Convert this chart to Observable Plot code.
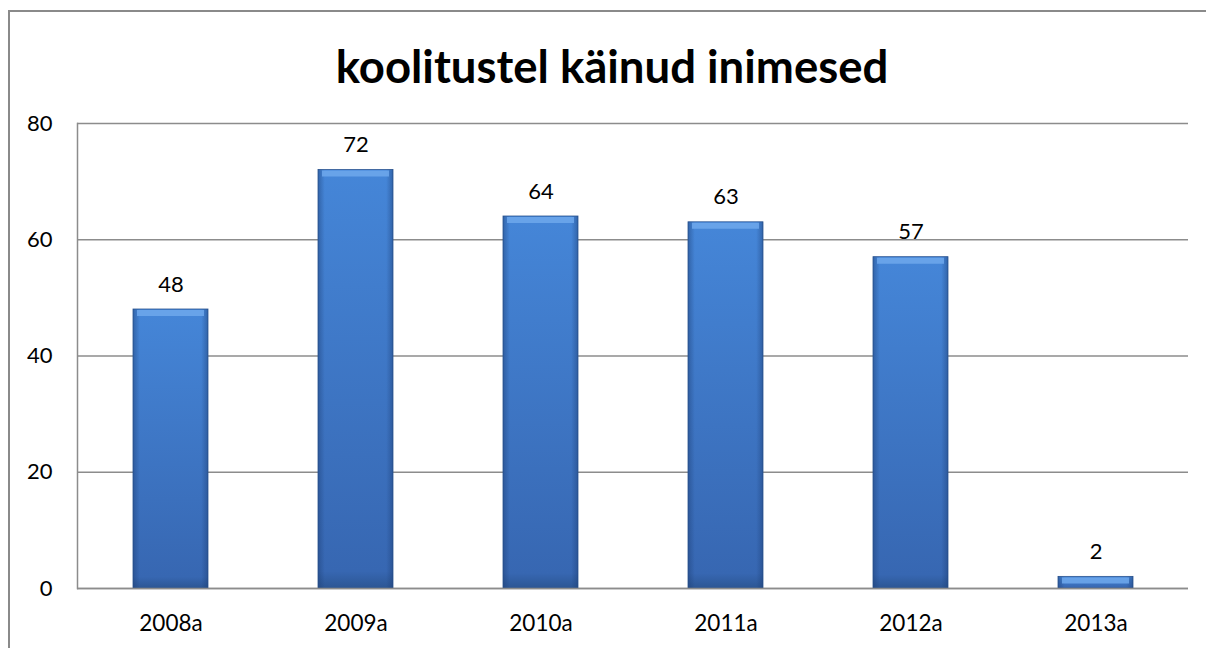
<!DOCTYPE html>
<html>
<head>
<meta charset="utf-8">
<script src="https://cdn.jsdelivr.net/npm/d3@7"></script>
<script src="https://cdn.jsdelivr.net/npm/@observablehq/plot@0.6"></script>
<style>
  html, body { margin: 0; padding: 0; background: #fff; overflow: hidden; }
  #wrap { position: relative; width: 1206px; height: 648px; font-family: Lato, "Open Sans", sans-serif; }
  #border { position: absolute; left: 8px; top: 10px; width: 1220px; height: 660px; border: 2px solid #8a8a8a; box-sizing: border-box; }
  #title { position: absolute; left: 9px; top: 0; width: 1206px; height: 100px; line-height: 132px; text-align: center; font-weight: 700; font-size: 45.5px; color: #000; }
  #chart { position: absolute; left: 0; top: 100px; }
</style>
</head>
<body>
<div id="wrap">
  <div id="border"></div>
  <div id="title">koolitustel käinud inimesed</div>
  <div id="chart"></div>
</div>
<script>
const categories = ["2008a", "2009a", "2010a", "2011a", "2012a", "2013a"];
const values = [48, 72, 64, 63, 57, 2];
const yTicks = [0, 20, 40, 60, 80];

const data = categories.map((c, i) => ({year: c, value: values[i]}));

const plot = Plot.plot({
  width: 1206,
  height: 548,
  marginLeft: 77,
  marginRight: 18,
  marginTop: 23,
  marginBottom: 60,
  style: {fontFamily: "Lato, 'Open Sans', sans-serif", fontSize: "22px", color: "#000", background: "transparent"},
  x: {domain: categories, paddingInner: 0.595, paddingOuter: 0.2975, label: null},
  y: {domain: [0, 80], ticks: yTicks, label: null},
  marks: [
    Plot.gridY(yTicks, {stroke: "#8c8c8c", strokeOpacity: 1, strokeWidth: 1.5}),
    Plot.axisY(yTicks, {tickSize: 0, tickPadding: 25, fontSize: 22, label: null}),
    Plot.axisX({tickSize: 0, tickPadding: 27, fontSize: 22.5, label: null}),
    Plot.barY(data, {x: "year", y: "value", fill: "url(#barBody)", stroke: "#2c5591", strokeWidth: 0.8}),
    Plot.barY(data, {x: "year", y: "value", fill: "url(#barSides)"}),
    Plot.tickY(data, {x: "year", y: "value", stroke: "#6ea8ec", strokeOpacity: 0.85, strokeWidth: 6, dy: 3.5, insetLeft: 4, insetRight: 4}),
    Plot.text(data, {x: "year", y: "value", text: d => String(d.value), dy: -25, fontSize: 22, fill: "#000"}),
    Plot.ruleY([0], {stroke: "#8c8c8c", strokeWidth: 1.5}),
    Plot.frame({anchor: "left", stroke: "#8c8c8c", strokeWidth: 1.5})
  ]
});

const svgSel = d3.select(plot);
const defs = svgSel.insert("defs", ":first-child");
const gBody = defs.append("linearGradient").attr("id", "barBody").attr("x1", 0).attr("y1", 0).attr("x2", 0).attr("y2", 1);
gBody.append("stop").attr("offset", "0%").attr("stop-color", "#4586d8");
gBody.append("stop").attr("offset", "96%").attr("stop-color", "#3767b2");
gBody.append("stop").attr("offset", "100%").attr("stop-color", "#2c5694");
const gSides = defs.append("linearGradient").attr("id", "barSides").attr("x1", 0).attr("y1", 0).attr("x2", 1).attr("y2", 0);
gSides.append("stop").attr("offset", "0%").attr("stop-color", "#1b3c72").attr("stop-opacity", 0.45);
gSides.append("stop").attr("offset", "9%").attr("stop-color", "#1b3c72").attr("stop-opacity", 0.0);
gSides.append("stop").attr("offset", "91%").attr("stop-color", "#1b3c72").attr("stop-opacity", 0.0);
gSides.append("stop").attr("offset", "100%").attr("stop-color", "#1b3c72").attr("stop-opacity", 0.45);

document.getElementById("chart").appendChild(plot);
</script>
</body>
</html>
